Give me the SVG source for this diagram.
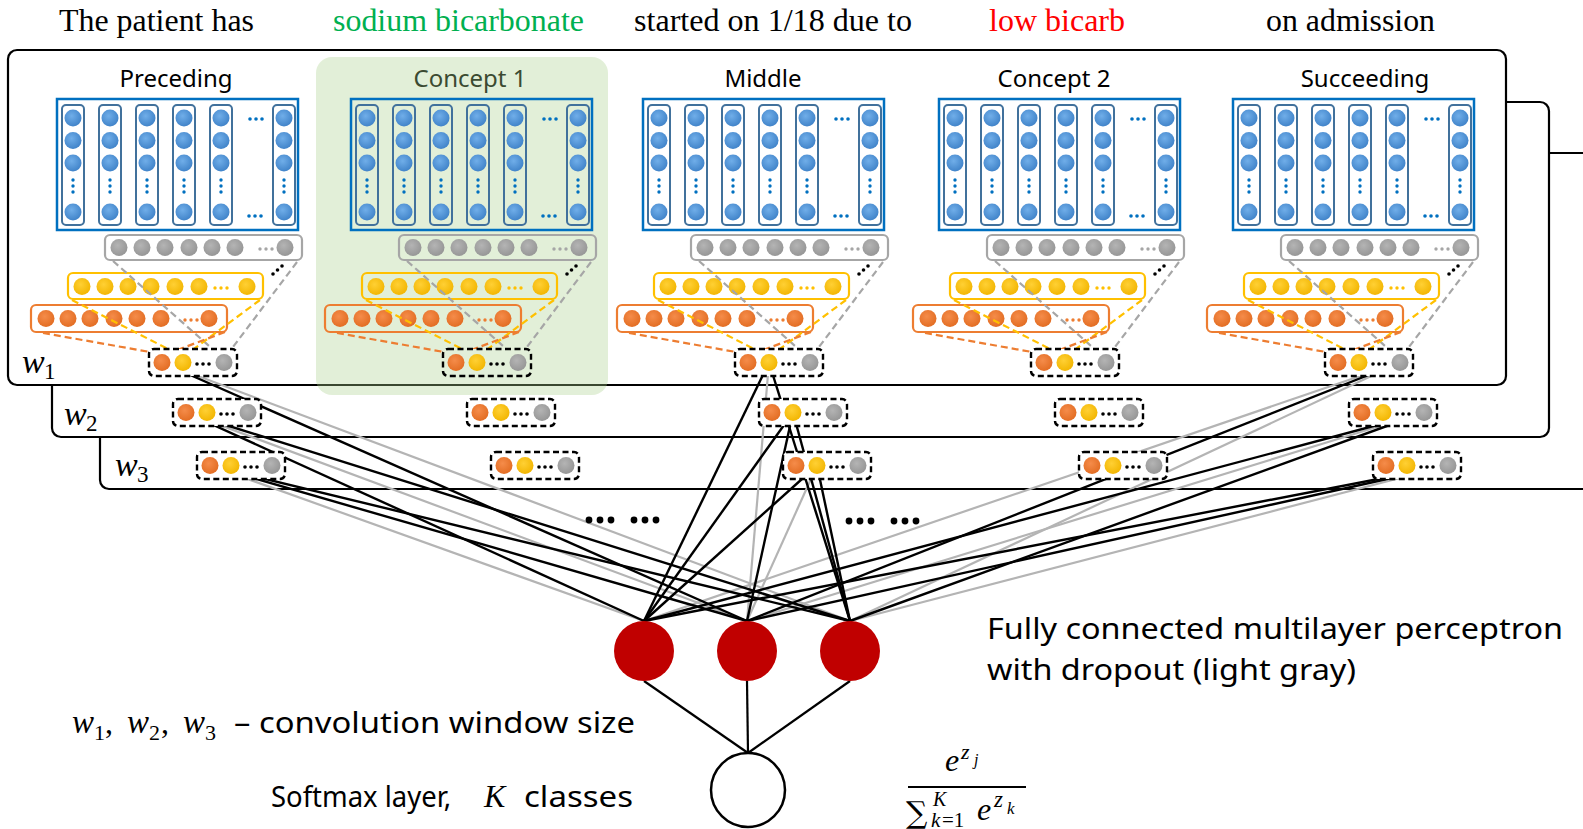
<svg xmlns="http://www.w3.org/2000/svg" width="1583" height="829" viewBox="0 0 1583 829">
  <style>
    .frame { fill: #ffffff; stroke: #000000; stroke-width: 2.2; }
    .emb { fill: none; stroke: #0070c0; stroke-width: 2.5; }
    .vc { fill: none; stroke: #41719c; stroke-width: 2; }
    .barG { fill: none; stroke: #a6a6a6; stroke-width: 2.2; }
    .barY { fill: none; stroke: #ffc000; stroke-width: 2.2; }
    .barO { fill: none; stroke: #ed7d31; stroke-width: 2.2; }
    .nB { fill: url(#gBlue); }
    .nG { fill: url(#gGray); }
    .nY { fill: url(#gYel); }
    .nO { fill: url(#gOra); }
    .dB { fill: #0070c0; }
    .dG { fill: #a6a6a6; }
    .dY { fill: #ffc000; }
    .dO { fill: #ed7d31; }
    .dK { fill: #000000; }
    .dash { stroke-width: 2.2; stroke-dasharray: 7 4; fill: none; }
    .fb { stroke: #000000; stroke-width: 2.4; stroke-dasharray: 6 3.5; }
    .live { stroke: #000000; stroke-width: 2.4; }
    .drop { stroke: #b4b4b4; stroke-width: 2.2; }
    .word { font-family: "Liberation Serif", "Times New Roman", serif; font-size: 32px; }
    .title { font-family: "Noto Sans", "Open Sans", sans-serif; font-size: 24px; text-anchor: middle; fill: #000; }
    .sans { font-family: "Noto Sans", "Open Sans", sans-serif; font-size: 29px; fill: #000; }
    .mi { font-family: "Liberation Serif", "Times New Roman", serif; font-style: italic; fill: #000; }
    .mr { font-family: "Liberation Serif", "Times New Roman", serif; fill: #000; }
    .hid { fill: #c00000; }
  </style>
  <defs>
    <radialGradient id="gBlue" cx="0.42" cy="0.38" r="0.65">
      <stop offset="0" stop-color="#70aee9"/>
      <stop offset="1" stop-color="#3f82c8"/>
    </radialGradient>
    <radialGradient id="gGray" cx="0.42" cy="0.38" r="0.65">
      <stop offset="0" stop-color="#b4b4b4"/>
      <stop offset="1" stop-color="#959595"/>
    </radialGradient>
    <radialGradient id="gYel" cx="0.42" cy="0.38" r="0.65">
      <stop offset="0" stop-color="#ffd034"/>
      <stop offset="1" stop-color="#f2b500"/>
    </radialGradient>
    <radialGradient id="gOra" cx="0.42" cy="0.38" r="0.65">
      <stop offset="0" stop-color="#f58c4a"/>
      <stop offset="1" stop-color="#e26c22"/>
    </radialGradient>

    <!-- one word-embedding vector -->
    <g id="vcol">
      <rect class="vc" x="0" y="105" width="22" height="120" rx="4"/>
      <circle class="nB" cx="11" cy="118" r="8.5"/>
      <circle class="nB" cx="11" cy="140.5" r="8.5"/>
      <circle class="nB" cx="11" cy="163" r="8.5"/>
      <circle class="dB" cx="11" cy="180" r="1.7"/>
      <circle class="dB" cx="11" cy="186" r="1.7"/>
      <circle class="dB" cx="11" cy="192" r="1.7"/>
      <circle class="nB" cx="11" cy="212" r="8.5"/>
    </g>

    <!-- embedding matrix, feature maps and pooling lines of one text segment -->
    <g id="colBody">
      <rect class="emb" x="0" y="99" width="241" height="131"/>
      <use href="#vcol" x="5"/>
      <use href="#vcol" x="42"/>
      <use href="#vcol" x="79"/>
      <use href="#vcol" x="116"/>
      <use href="#vcol" x="153"/>
      <use href="#vcol" x="216"/>
      <circle class="dB" cx="193" cy="119" r="1.8"/>
      <circle class="dB" cx="199" cy="119" r="1.8"/>
      <circle class="dB" cx="205" cy="119" r="1.8"/>
      <circle class="dB" cx="192" cy="216" r="1.8"/>
      <circle class="dB" cx="198" cy="216" r="1.8"/>
      <circle class="dB" cx="204" cy="216" r="1.8"/>

      <rect class="barG" x="48" y="235" width="197" height="25" rx="5"/>
      <circle class="nG" cx="62" cy="247.5" r="8.5"/>
      <circle class="nG" cx="85" cy="247.5" r="8.5"/>
      <circle class="nG" cx="108" cy="247.5" r="8.5"/>
      <circle class="nG" cx="132" cy="247.5" r="8.5"/>
      <circle class="nG" cx="155" cy="247.5" r="8.5"/>
      <circle class="nG" cx="178" cy="247.5" r="8.5"/>
      <circle class="nG" cx="228" cy="247.5" r="8.5"/>
      <circle class="dG" cx="203" cy="249" r="1.7"/>
      <circle class="dG" cx="209" cy="249" r="1.7"/>
      <circle class="dG" cx="215" cy="249" r="1.7"/>
      <circle class="dK" cx="216" cy="274" r="1.8"/>
      <circle class="dK" cx="220.5" cy="270" r="1.8"/>
      <circle class="dK" cx="225" cy="266" r="1.8"/>

      <rect class="barY" x="11" y="273" width="195" height="26" rx="5"/>
      <circle class="nY" cx="25" cy="286.5" r="8.5"/>
      <circle class="nY" cx="48" cy="286.5" r="8.5"/>
      <circle class="nY" cx="71" cy="286.5" r="8.5"/>
      <circle class="nY" cx="94" cy="286.5" r="8.5"/>
      <circle class="nY" cx="118" cy="286.5" r="8.5"/>
      <circle class="nY" cx="142" cy="286.5" r="8.5"/>
      <circle class="nY" cx="190" cy="286.5" r="8.5"/>
      <circle class="dY" cx="158" cy="288" r="1.7"/>
      <circle class="dY" cx="164" cy="288" r="1.7"/>
      <circle class="dY" cx="170" cy="288" r="1.7"/>

      <rect class="barO" x="-26" y="305" width="196" height="27" rx="5"/>
      <circle class="nO" cx="-11" cy="318.5" r="8.5"/>
      <circle class="nO" cx="11" cy="318.5" r="8.5"/>
      <circle class="nO" cx="33" cy="318.5" r="8.5"/>
      <circle class="nO" cx="57" cy="318.5" r="8.5"/>
      <circle class="nO" cx="80" cy="318.5" r="8.5"/>
      <circle class="nO" cx="104" cy="318.5" r="8.5"/>
      <circle class="nO" cx="152" cy="318.5" r="8.5"/>
      <circle class="dO" cx="128" cy="320" r="1.7"/>
      <circle class="dO" cx="134" cy="320" r="1.7"/>
      <circle class="dO" cx="140" cy="320" r="1.7"/>

      <!-- max-pooling guides -->
      <line class="dash" stroke="#a6a6a6" x1="56" y1="261" x2="160" y2="353"/>
      <line class="dash" stroke="#a6a6a6" x1="240" y1="262" x2="173" y2="351"/>
      <line class="dash" stroke="#ffc000" x1="15" y1="300" x2="121" y2="354"/>
      <line class="dash" stroke="#ffc000" x1="203" y1="300" x2="130" y2="354"/>
      <line class="dash" stroke="#ed7d31" x1="-14" y1="333" x2="93" y2="352"/>
      <line class="dash" stroke="#ed7d31" x1="168" y1="332" x2="115" y2="352"/>
    </g>

    <!-- pooled feature vector (box fill comes from the referencing element) -->
    <g id="fbox">
      <rect class="fb" x="0" y="0" width="88" height="27" rx="5"/>
      <circle class="nO" cx="13" cy="13.5" r="8.5"/>
      <circle class="nY" cx="34" cy="13.5" r="8.5"/>
      <circle class="dK" cx="48" cy="15" r="1.8"/>
      <circle class="dK" cx="54" cy="15" r="1.8"/>
      <circle class="dK" cx="60" cy="15" r="1.8"/>
      <circle class="nG" cx="75" cy="13.5" r="8.5"/>
    </g>
  </defs>

  <rect x="0" y="0" width="1583" height="829" fill="#ffffff"/>

  <!-- stacked window-size frames -->
  <g id="frames">
    <rect class="frame" x="100" y="153" width="1530" height="336" rx="9"/>
    <rect class="frame" x="52" y="102" width="1497" height="335" rx="9"/>
    <rect class="frame" x="8" y="50" width="1498" height="335" rx="9"/>
  </g>

  <!-- highlighted concept segment -->
  <rect id="concept1-highlight" x="316" y="57" width="292" height="338" rx="16" fill="#a9d18e" fill-opacity="0.34"/>

  <g id="frame-labels">
    <text class="mi" x="22" y="373" font-size="34">w</text>
    <text class="mr" x="44" y="379" font-size="23">1</text>
    <text class="mi" x="64" y="425" font-size="34">w</text>
    <text class="mr" x="86" y="431" font-size="23">2</text>
    <text class="mi" x="115" y="476" font-size="34">w</text>
    <text class="mr" x="137" y="482" font-size="23">3</text>
  </g>

  <!-- input sentence -->
  <g id="sentence" class="word">
    <text x="59" y="31" textLength="195" lengthAdjust="spacingAndGlyphs">The patient has</text>
    <text x="333" y="31" fill="#00b050" textLength="251" lengthAdjust="spacingAndGlyphs">sodium bicarbonate</text>
    <text x="634" y="31" textLength="278" lengthAdjust="spacingAndGlyphs">started on 1/18 due to</text>
    <text x="989" y="31" fill="#ff0000" textLength="136" lengthAdjust="spacingAndGlyphs">low bicarb</text>
    <text x="1266" y="31" textLength="169" lengthAdjust="spacingAndGlyphs">on admission</text>
  </g>

  <!-- text segments -->
  <g id="seg-preceding">
    <text class="title" x="176" y="87">Preceding</text>
    <use href="#colBody" x="57"/>
  </g>
  <g id="seg-concept1">
    <text class="title" x="470" y="87" fill="#3b4a31" style="fill:#3b4a31">Concept 1</text>
    <use href="#colBody" x="351"/>
  </g>
  <g id="seg-middle">
    <text class="title" x="763" y="87">Middle</text>
    <use href="#colBody" x="643"/>
  </g>
  <g id="seg-concept2">
    <text class="title" x="1054" y="87">Concept 2</text>
    <use href="#colBody" x="939"/>
  </g>
  <g id="seg-succeeding">
    <text class="title" x="1365" y="87">Succeeding</text>
    <use href="#colBody" x="1233"/>
  </g>

  <!-- connectors -->
  <g id="connectors">
    <g class="drop">
      <line x1="162" y1="362.5" x2="850" y2="621"/>
      <line x1="186" y1="412.5" x2="747" y2="621"/>
      <line x1="210" y1="465.5" x2="644" y2="621"/>
      <line x1="769" y1="362.5" x2="747" y2="621"/>
      <line x1="817" y1="465.5" x2="747" y2="621"/>
      <line x1="1400" y1="362.5" x2="644" y2="621"/>
      <line x1="1400" y1="362.5" x2="850" y2="621"/>
      <line x1="1424" y1="412.5" x2="747" y2="621"/>
      <line x1="1448" y1="465.5" x2="850" y2="621"/>
    </g>
    <g class="live">
      <line x1="162" y1="362.5" x2="747" y2="621"/>
      <line x1="186" y1="412.5" x2="644" y2="621"/>
      <line x1="186" y1="412.5" x2="850" y2="621"/>
      <line x1="210" y1="465.5" x2="747" y2="621"/>
      <line x1="210" y1="465.5" x2="850" y2="621"/>
      <line x1="769" y1="362.5" x2="644" y2="621"/>
      <line x1="769" y1="362.5" x2="850" y2="621"/>
      <line x1="793" y1="412.5" x2="644" y2="621"/>
      <line x1="793" y1="412.5" x2="747" y2="621"/>
      <line x1="793" y1="412.5" x2="850" y2="621"/>
      <line x1="817" y1="465.5" x2="644" y2="621"/>
      <line x1="817" y1="465.5" x2="850" y2="621"/>
      <line x1="1400" y1="362.5" x2="747" y2="621"/>
      <line x1="1424" y1="412.5" x2="644" y2="621"/>
      <line x1="1424" y1="412.5" x2="850" y2="621"/>
      <line x1="1448" y1="465.5" x2="644" y2="621"/>
      <line x1="1448" y1="465.5" x2="747" y2="621"/>
    </g>
    <g stroke="#000" stroke-width="2.2">
      <line x1="644" y1="681" x2="748" y2="753"/>
      <line x1="747" y1="681" x2="748" y2="753"/>
      <line x1="850" y1="681" x2="748" y2="753"/>
    </g>
  </g>

  <!-- pooled vectors per window size -->
  <g id="pool-preceding-w1"><use href="#fbox" x="149" y="349" fill="#ffffff"/></g>
  <g id="pool-concept1-w1"><use href="#fbox" x="443" y="349" fill="#e2efd9"/></g>
  <g id="pool-middle-w1"><use href="#fbox" x="735" y="349" fill="#ffffff"/></g>
  <g id="pool-concept2-w1"><use href="#fbox" x="1031" y="349" fill="#ffffff"/></g>
  <g id="pool-succeeding-w1"><use href="#fbox" x="1325" y="349" fill="#ffffff"/></g>
  <g id="pool-preceding-w2"><use href="#fbox" x="173" y="399" fill="#ffffff"/></g>
  <g id="pool-concept1-w2"><use href="#fbox" x="467" y="399" fill="#ffffff"/></g>
  <g id="pool-middle-w2"><use href="#fbox" x="759" y="399" fill="#ffffff"/></g>
  <g id="pool-concept2-w2"><use href="#fbox" x="1055" y="399" fill="#ffffff"/></g>
  <g id="pool-succeeding-w2"><use href="#fbox" x="1349" y="399" fill="#ffffff"/></g>
  <g id="pool-preceding-w3"><use href="#fbox" x="197" y="452" fill="#ffffff"/></g>
  <g id="pool-concept1-w3"><use href="#fbox" x="491" y="452" fill="#ffffff"/></g>
  <g id="pool-middle-w3"><use href="#fbox" x="783" y="452" fill="#ffffff"/></g>
  <g id="pool-concept2-w3"><use href="#fbox" x="1079" y="452" fill="#ffffff"/></g>
  <g id="pool-succeeding-w3"><use href="#fbox" x="1373" y="452" fill="#ffffff"/></g>

  <!-- ellipses for further window sizes -->
  <g id="more" class="dK">
    <circle cx="589" cy="520" r="3.4"/><circle cx="600" cy="520" r="3.4"/><circle cx="611" cy="520" r="3.4"/>
    <circle cx="634" cy="520" r="3.4"/><circle cx="645" cy="520" r="3.4"/><circle cx="656" cy="520" r="3.4"/>
    <circle cx="849" cy="521" r="3.4"/><circle cx="860" cy="521" r="3.4"/><circle cx="871" cy="521" r="3.4"/>
    <circle cx="894" cy="521" r="3.4"/><circle cx="905" cy="521" r="3.4"/><circle cx="916" cy="521" r="3.4"/>
  </g>

  <!-- hidden layer -->
  <g id="hidden-1"><circle class="hid" cx="644" cy="651" r="30"/></g>
  <g id="hidden-2"><circle class="hid" cx="747" cy="651" r="30"/></g>
  <g id="hidden-3"><circle class="hid" cx="850" cy="651" r="30"/></g>

  <!-- output -->
  <g id="softmax"><circle cx="748" cy="790" r="37" fill="#ffffff" stroke="#000" stroke-width="2.5"/></g>

  <!-- annotations -->
  <g id="mlp-note" class="sans">
    <text x="987" y="639" textLength="576" lengthAdjust="spacingAndGlyphs">Fully connected multilayer perceptron</text>
    <text x="987" y="680" textLength="369" lengthAdjust="spacingAndGlyphs">with dropout (light gray)</text>
  </g>
  <g id="window-note">
    <text class="mi" x="72" y="733" font-size="33">w</text>
    <text class="mr" x="94" y="740" font-size="22">1</text>
    <text class="mr" x="105" y="733" font-size="32">,</text>
    <text class="mi" x="127" y="733" font-size="33">w</text>
    <text class="mr" x="149" y="740" font-size="22">2</text>
    <text class="mr" x="161" y="733" font-size="32">,</text>
    <text class="mi" x="183" y="733" font-size="33">w</text>
    <text class="mr" x="205" y="740" font-size="22">3</text>
    <text class="sans" x="234" y="733" textLength="401" lengthAdjust="spacingAndGlyphs">– convolution window size</text>
  </g>
  <g id="softmax-note">
    <text class="sans" x="271" y="807" textLength="180" lengthAdjust="spacingAndGlyphs">Softmax layer,</text>
    <text class="mi" x="484" y="807" font-size="32">K</text>
    <text class="sans" x="524" y="807" textLength="109" lengthAdjust="spacingAndGlyphs">classes</text>
  </g>
  <g id="softmax-formula">
    <text class="mi" x="945" y="771" font-size="32">e</text>
    <text class="mi" x="961" y="759" font-size="22">z</text>
    <text class="mi" x="974" y="765" font-size="16">j</text>
    <line x1="908" y1="787" x2="1026" y2="787" stroke="#000" stroke-width="2"/>
    <text x="906" y="823" font-family="DejaVu Serif, serif" font-size="30">∑</text>
    <text class="mi" x="933" y="806" font-size="20">K</text>
    <text class="mi" x="931" y="827" font-size="21">k</text>
    <text class="mr" x="942" y="827" font-size="21">=1</text>
    <text class="mi" x="977" y="820" font-size="32">e</text>
    <text class="mi" x="994" y="807" font-size="23">z</text>
    <text class="mi" x="1007" y="814" font-size="17">k</text>
  </g>
</svg>
